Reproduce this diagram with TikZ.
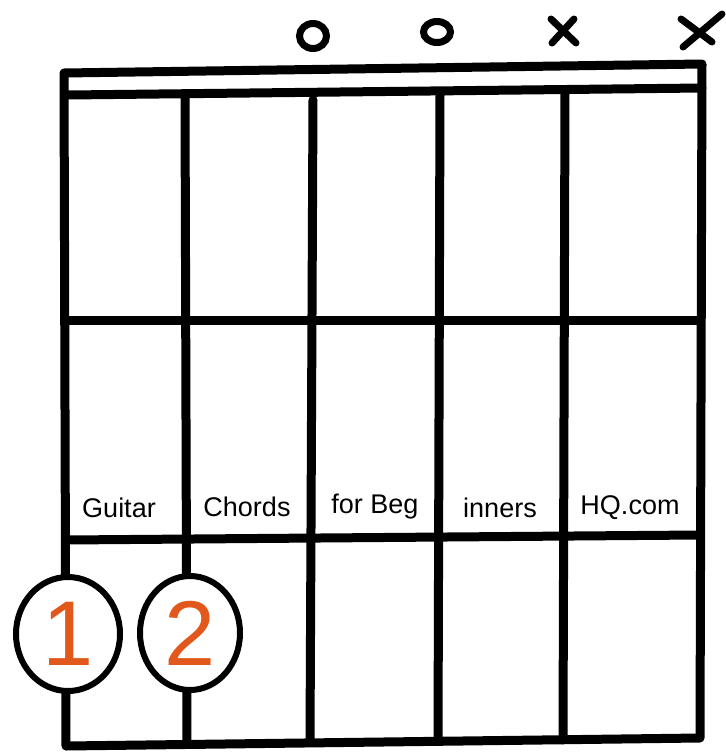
\documentclass[tikz,border=0pt]{standalone}
\usepackage{fontspec}
\usetikzlibrary{shapes.geometric}
\setmainfont{Liberation Sans}
\definecolor{fingerorange}{HTML}{E2571B}
\begin{document}
\begin{tikzpicture}[x=1pt,y=-1pt,
  thick line/.style={line width=9pt, line cap=round, line join=round},
  marker/.style={line width=7pt, line cap=round},
  openmark/.style={draw, line width=7pt, ellipse, inner sep=0pt},
  label text/.style={font=\fontsize{27}{27}\selectfont, inner sep=0pt},
  finger/.style={draw, line width=6pt, fill=white, ellipse, inner sep=0pt, font=\fontsize{92}{92}\selectfont, text=fingerorange}
]
\useasboundingbox (0,0) rectangle (726,756);
% coordinates
\coordinate (tl) at (64,73);
\coordinate (tr) at (702,64);
\coordinate (nl) at (68,95);
\coordinate (nr) at (702,88);
\coordinate (bl) at (66,746);
\coordinate (br) at (700,738);
% frame
\draw[thick line] (bl) -- (tl) -- (tr) -- (br) -- (bl);
\draw[thick line] (nl) -- (nr);
% strings
\coordinate (s2t) at (185,97); \coordinate (s2b) at (187,742);
\coordinate (s3t) at (313,100); \coordinate (s3b) at (310,742);
\coordinate (s4t) at (440,95); \coordinate (s4b) at (438,741);
\coordinate (s5t) at (565,93); \coordinate (s5b) at (563,740);
\draw[thick line] (s2t) -- (s2b);
\draw[thick line] (s3t) -- (s3b);
\draw[thick line] (s4t) -- (s4b);
\draw[thick line] (s5t) -- (s5b);
% frets
\coordinate (f1l) at (66,320); \coordinate (f1r) at (700,320);
\coordinate (f2l) at (66,540); \coordinate (f2r) at (700,535);
\draw[thick line] (f1l) -- (f1r);
\draw[thick line] (f2l) -- (f2r);
% open / muted markers
\node[openmark, minimum width=27pt, minimum height=25pt] (o1) at (313,36) {};
\node[openmark, minimum width=27pt, minimum height=21pt] (o2) at (437,32) {};
\coordinate (x1a) at (551,19); \coordinate (x1b) at (576,43);
\coordinate (x1c) at (574,19); \coordinate (x1d) at (552,43);
\draw[marker] (x1a) -- (x1b); \draw[marker] (x1c) -- (x1d);
\coordinate (x2a) at (681,19); \coordinate (x2b) at (712,42);
\coordinate (x2c) at (722,14); \coordinate (x2d) at (683,47);
\draw[marker] (x2a) -- (x2b); \draw[marker] (x2c) -- (x2d);
% watermark text
\node[label text] (w1) at (119,508) {Guitar};
\node[label text] (w2) at (247,507) {Chords};
\node[label text] (w3) at (375,507) {for Beg};
\node[label text] (w4) at (500,508) {inners};
\node[label text] (w5) at (630,508) {HQ.com};
% fingers
\node[finger, minimum width=104pt, minimum height=114pt] (f1) at (68,634) {1};
\node[finger, minimum width=100pt, minimum height=114pt] (f2) at (190,633) {2};
\end{tikzpicture}
\end{document}
